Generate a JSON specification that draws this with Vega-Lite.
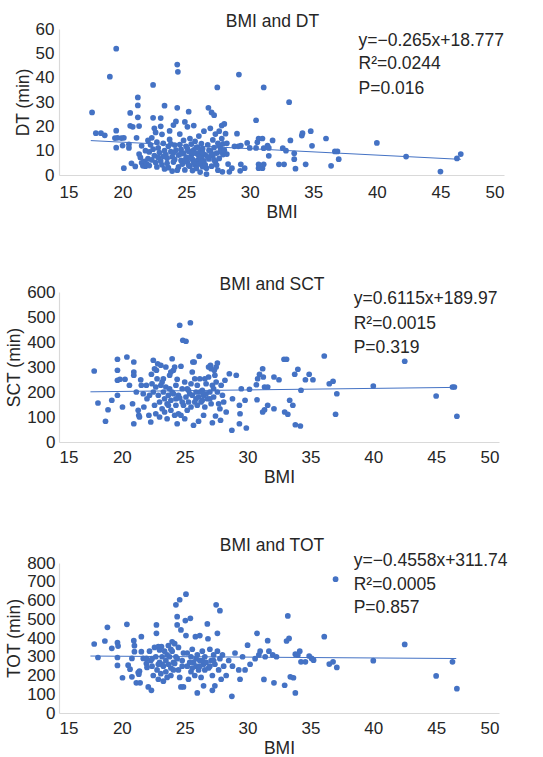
{
  "$schema": "https://vega.github.io/schema/vega-lite/v6.json",
  "padding": {"left": 5, "top": 12, "right": 0, "bottom": 0},
  "spacing": 54,
  "config": {
    "view": {"stroke": null},
    "font": "Liberation Sans",
    "axis": {"grid": false, "ticks": false, "labelOverlap": false, "labelSeparation": -20, "domainColor": "#d9d9d9", "domainWidth": 1.2, "labelFont": "Liberation Sans", "labelFontSize": 17, "labelColor": "#262626", "titleFont": "Liberation Sans", "titleFontSize": 17.5, "titleFontWeight": "normal", "titleColor": "#262626"},
    "axisY": {"labelOverlap": false},
    "title": {"font": "Liberation Sans", "fontSize": 17.5, "fontWeight": "normal", "color": "#262626"}
  },
  "vconcat": [
    {
      "width": 445, "height": 146,
      "title": {"text": "BMI and DT", "anchor": "middle", "frame": "group", "dx": -9, "offset": -10},
      "encoding": {
        "x": {"field": "bmi", "type": "quantitative", "scale": {"domain": [15, 50]}, "axis": {"values": [15,20,25,30,35,40,45,50], "labelOverlap": false, "title": "BMI", "labelPadding": 9, "titlePadding": 3}},
        "y": {"field": "v", "type": "quantitative", "scale": {"domain": [0, 60]}, "axis": {"values": [0,10,20,30,40,50,60], "labelOverlap": false, "title": "DT (min)", "labelPadding": 5, "titlePadding": 0, "minExtent": 27, "maxExtent": 27}}
      },
      "layer": [
        {
          "data": {"values": [
            {"bmi":17.6,"v":25.7},{"bmi":17.9,"v":17.2},{"bmi":18.3,"v":17.2},{"bmi":18.6,"v":16.3},{"bmi":19.5,"v":51.9},{"bmi":19.0,"v":40.4},{"bmi":19.5,"v":18.2},{"bmi":19.4,"v":15.2},{"bmi":19.6,"v":15.3},{"bmi":19.5,"v":11.2},{"bmi":19.9,"v":15.2},{"bmi":20.1,"v":15.3},{"bmi":20.0,"v":12.1},{"bmi":20.1,"v":2.8},{"bmi":20.6,"v":25.5},{"bmi":20.6,"v":20.2},{"bmi":20.8,"v":19.8},{"bmi":20.5,"v":11.1},{"bmi":20.5,"v":12.6},{"bmi":21.2,"v":31.9},{"bmi":21.2,"v":28.6},{"bmi":21.2,"v":23.7},{"bmi":21.3,"v":20.1},{"bmi":21.1,"v":15.3},{"bmi":20.7,"v":4.8},{"bmi":21.0,"v":3.5},{"bmi":21.3,"v":8.6},{"bmi":21.4,"v":7.2},{"bmi":21.5,"v":5.0},{"bmi":21.6,"v":3.8},{"bmi":21.7,"v":5.6},{"bmi":21.8,"v":3.6},{"bmi":21.9,"v":4.6},{"bmi":22.0,"v":6.7},{"bmi":22.1,"v":3.9},{"bmi":22.2,"v":12.4},{"bmi":22.3,"v":15.3},{"bmi":22.4,"v":37},{"bmi":22.4,"v":23.5},{"bmi":22.5,"v":19.2},{"bmi":22.6,"v":17.5},{"bmi":22.7,"v":13.5},{"bmi":22.8,"v":11.1},{"bmi":22.9,"v":9.2},{"bmi":22.5,"v":8.0},{"bmi":22.3,"v":6.2},{"bmi":22.6,"v":5.1},{"bmi":22.7,"v":3.3},{"bmi":23.0,"v":23.4},{"bmi":23.0,"v":20.0},{"bmi":23.1,"v":16.7},{"bmi":23.2,"v":13.0},{"bmi":23.3,"v":28.5},{"bmi":23.3,"v":10.0},{"bmi":23.4,"v":8.4},{"bmi":23.5,"v":6.9},{"bmi":23.1,"v":4.2},{"bmi":23.3,"v":2.5},{"bmi":23.6,"v":11.8},{"bmi":23.7,"v":14.6},{"bmi":23.7,"v":18.1},{"bmi":23.8,"v":9.6},{"bmi":23.9,"v":7.5},{"bmi":23.9,"v":1.6},{"bmi":24.0,"v":20.5},{"bmi":24.0,"v":5.3},{"bmi":24.1,"v":12.3},{"bmi":24.2,"v":22},{"bmi":24.2,"v":10.2},{"bmi":24.3,"v":45.4},{"bmi":24.35,"v":42.4},{"bmi":24.3,"v":27.6},{"bmi":24.4,"v":8.2},{"bmi":24.4,"v":3.3},{"bmi":24.5,"v":16.8},{"bmi":24.5,"v":12.5},{"bmi":24.6,"v":6.0},{"bmi":24.6,"v":10.5},{"bmi":24.7,"v":4.5},{"bmi":24.8,"v":14.2},{"bmi":24.8,"v":9.0},{"bmi":24.9,"v":21.8},{"bmi":24.9,"v":2.1},{"bmi":25.0,"v":7.3},{"bmi":25.0,"v":11.8},{"bmi":25.1,"v":19.8},{"bmi":25.1,"v":5.2},{"bmi":25.2,"v":26.0},{"bmi":25.2,"v":9.8},{"bmi":25.3,"v":15.0},{"bmi":25.3,"v":3.6},{"bmi":25.4,"v":8.1},{"bmi":25.4,"v":12.7},{"bmi":25.5,"v":1.8},{"bmi":25.5,"v":6.4},{"bmi":25.6,"v":10.3},{"bmi":25.6,"v":20.3},{"bmi":25.7,"v":4.2},{"bmi":25.7,"v":13.8},{"bmi":25.8,"v":8.8},{"bmi":25.8,"v":2.7},{"bmi":25.9,"v":11.5},{"bmi":25.9,"v":6.0},{"bmi":26.0,"v":16.0},{"bmi":26.0,"v":4.5},{"bmi":26.1,"v":9.6},{"bmi":26.1,"v":1.2},{"bmi":26.2,"v":12.9},{"bmi":26.2,"v":7.1},{"bmi":26.3,"v":3.4},{"bmi":26.3,"v":10.8},{"bmi":26.4,"v":5.8},{"bmi":26.4,"v":18.0},{"bmi":26.5,"v":8.3},{"bmi":26.6,"v":0.4},{"bmi":26.6,"v":2.8},{"bmi":26.7,"v":12.4},{"bmi":26.75,"v":27.6},{"bmi":26.8,"v":6.6},{"bmi":26.9,"v":9.9},{"bmi":26.9,"v":19.2},{"bmi":27.0,"v":25.7},{"bmi":27.0,"v":3.6},{"bmi":27.1,"v":14.4},{"bmi":27.1,"v":7.9},{"bmi":27.2,"v":24.6},{"bmi":27.2,"v":11.3},{"bmi":27.3,"v":5.4},{"bmi":27.3,"v":16.8},{"bmi":27.4,"v":9.0},{"bmi":27.45,"v":36.0},{"bmi":27.5,"v":13.0},{"bmi":27.5,"v":2.0},{"bmi":27.6,"v":18.0},{"bmi":27.6,"v":6.8},{"bmi":27.7,"v":11.0},{"bmi":27.8,"v":20.3},{"bmi":27.8,"v":15.0},{"bmi":27.85,"v":1.3},{"bmi":27.9,"v":8.4},{"bmi":27.9,"v":12.8},{"bmi":28.0,"v":21.0},{"bmi":28.1,"v":17.0},{"bmi":28.2,"v":8.6},{"bmi":28.3,"v":4.5},{"bmi":28.4,"v":1.3},{"bmi":28.6,"v":2.8},{"bmi":28.8,"v":11.8},{"bmi":29.0,"v":17.0},{"bmi":29.1,"v":11.8},{"bmi":29.15,"v":41.3},{"bmi":29.3,"v":4.4},{"bmi":29.25,"v":1.7},{"bmi":29.3,"v":12.1},{"bmi":29.6,"v":2.8},{"bmi":29.8,"v":13.2},{"bmi":30.0,"v":11.1},{"bmi":30.5,"v":11.1},{"bmi":30.6,"v":13.5},{"bmi":30.5,"v":22.5},{"bmi":30.7,"v":15.0},{"bmi":30.7,"v":4.4},{"bmi":30.7,"v":2.8},{"bmi":31.0,"v":15.0},{"bmi":31.0,"v":2.8},{"bmi":31.1,"v":11.0},{"bmi":31.1,"v":4.4},{"bmi":31.1,"v":36.0},{"bmi":31.4,"v":12.1},{"bmi":31.5,"v":11.1},{"bmi":31.5,"v":7.9},{"bmi":31.8,"v":14.2},{"bmi":32.3,"v":4.4},{"bmi":32.6,"v":11.0},{"bmi":32.7,"v":4.4},{"bmi":32.85,"v":10.0},{"bmi":33.1,"v":29.9},{"bmi":33.2,"v":14.2},{"bmi":33.5,"v":8.9},{"bmi":33.5,"v":6.5},{"bmi":33.6,"v":2.6},{"bmi":34.1,"v":16.2},{"bmi":34.15,"v":17.2},{"bmi":34.4,"v":4.4},{"bmi":34.8,"v":18.0},{"bmi":34.9,"v":12.0},{"bmi":36.0,"v":15.0},{"bmi":36.4,"v":3.8},{"bmi":36.7,"v":9.7},{"bmi":36.9,"v":9.7},{"bmi":37.0,"v":6.5},{"bmi":40.0,"v":13.2},{"bmi":42.3,"v":7.6},{"bmi":45.0,"v":1.4},{"bmi":46.3,"v":6.8},{"bmi":46.6,"v":8.6},
            {"bmi":22.1,"v":9.5},{"bmi":22.4,"v":10.6},{"bmi":22.8,"v":7.2},{"bmi":23.0,"v":5.8},{"bmi":23.2,"v":7.7},{"bmi":23.5,"v":4.8},{"bmi":23.6,"v":3.0},{"bmi":23.8,"v":12.8},{"bmi":24.0,"v":9.1},{"bmi":24.1,"v":6.4},{"bmi":24.3,"v":2.0},{"bmi":24.6,"v":8.7},{"bmi":24.9,"v":5.9},{"bmi":25.1,"v":10.8},{"bmi":25.2,"v":4.0},{"bmi":25.3,"v":7.0},{"bmi":25.5,"v":9.2},{"bmi":25.6,"v":5.1},{"bmi":25.8,"v":11.2},{"bmi":26.0,"v":7.8},{"bmi":26.2,"v":5.2},{"bmi":26.3,"v":9.0},{"bmi":26.5,"v":4.2},{"bmi":26.7,"v":7.4},{"bmi":26.8,"v":10.2},{"bmi":27.0,"v":8.8},{"bmi":27.2,"v":6.2},{"bmi":27.4,"v":4.1},{"bmi":27.6,"v":12.1},{"bmi":27.7,"v":9.6},{"bmi":28.0,"v":10.2},{"bmi":28.2,"v":13.0},{"bmi":21.8,"v":10.0},{"bmi":21.5,"v":12.0},{"bmi":22.0,"v":14.2}
          ]},
          "mark": {"type": "circle", "size": 33, "color": "#4472C4", "opacity": 1}
        },
        {
          "data": {"values": [{"bmi": 17.5, "v": 14.14}, {"bmi": 46.6, "v": 6.43}]},
          "mark": {"type": "line", "color": "#4472C4", "strokeWidth": 1}
        },
        {
          "data": {"values": [{"bmi": 38.56, "v": 55.2, "t": "y=−0.265x+18.777"}, {"bmi": 38.56, "v": 45.6, "t": "R²=0.0244"}, {"bmi": 38.56, "v": 35.3, "t": "P=0.016"}]},
          "mark": {"type": "text", "align": "left", "baseline": "middle", "fontSize": 17.5, "color": "#262626"},
          "encoding": {"text": {"field": "t"}}
        }
      ]
    },
    {
      "spacing": 50,
      "vconcat": [
        {
          "width": 440, "height": 150,
          "title": {"text": "BMI and SCT", "anchor": "middle", "frame": "group", "dx": -7, "offset": -10},
          "encoding": {
            "x": {"field": "bmi", "type": "quantitative", "scale": {"domain": [15, 50]}, "axis": {"values": [15,20,25,30,35,40,45,50], "labelOverlap": false, "title": "BMI", "labelPadding": 7, "titlePadding": 3}},
            "y": {"field": "v", "type": "quantitative", "scale": {"domain": [0, 600]}, "axis": {"values": [0,100,200,300,400,500,600], "labelOverlap": false, "title": "SCT (min)", "labelPadding": 4, "titlePadding": 3, "minExtent": 33, "maxExtent": 33}}
          },
          "layer": [
            {
              "data": {"values": [
                {"bmi":17.8,"v":284},{"bmi":18.1,"v":156},{"bmi":18.7,"v":83},{"bmi":18.9,"v":129},{"bmi":19.2,"v":167},{"bmi":19.65,"v":331},{"bmi":19.65,"v":287},{"bmi":19.65,"v":247},{"bmi":19.65,"v":187},{"bmi":19.85,"v":251},{"bmi":20.05,"v":140},{"bmi":20.25,"v":251},{"bmi":20.4,"v":340},{"bmi":20.6,"v":227},{"bmi":20.85,"v":153},{"bmi":20.95,"v":73},{"bmi":20.95,"v":320},{"bmi":20.95,"v":280},{"bmi":20.95,"v":267},{"bmi":21.15,"v":200},{"bmi":21.3,"v":127},{"bmi":21.35,"v":107},{"bmi":21.4,"v":100},{"bmi":21.5,"v":249},{"bmi":21.55,"v":227},{"bmi":21.7,"v":193},{"bmi":21.75,"v":140},{"bmi":21.95,"v":227},{"bmi":22.0,"v":173},{"bmi":22.15,"v":107},{"bmi":22.3,"v":80},{"bmi":22.35,"v":271},{"bmi":22.5,"v":327},{"bmi":22.6,"v":293},{"bmi":22.75,"v":287},{"bmi":22.85,"v":313},
                {"bmi":22.4,"v":233},{"bmi":22.5,"v":200},{"bmi":22.6,"v":147},{"bmi":22.7,"v":113},{"bmi":22.8,"v":253},{"bmi":22.9,"v":187},{"bmi":23.0,"v":160},{"bmi":23.0,"v":100},{"bmi":23.1,"v":227},{"bmi":23.1,"v":307},{"bmi":23.2,"v":133},{"bmi":23.3,"v":200},{"bmi":23.3,"v":253},{"bmi":23.4,"v":173},{"bmi":23.4,"v":120},{"bmi":23.5,"v":300},{"bmi":23.5,"v":220},{"bmi":23.6,"v":153},{"bmi":23.6,"v":93},{"bmi":23.7,"v":187},{"bmi":23.8,"v":267},{"bmi":23.8,"v":213},{"bmi":23.9,"v":127},{"bmi":23.9,"v":167},{"bmi":24.0,"v":333},{"bmi":24.0,"v":200},{"bmi":24.1,"v":287},{"bmi":24.2,"v":300},{"bmi":24.2,"v":107},{"bmi":24.3,"v":147},{"bmi":24.3,"v":227},{"bmi":24.4,"v":251},{"bmi":24.4,"v":73},{"bmi":24.5,"v":187},{"bmi":24.5,"v":113},{"bmi":24.6,"v":176},{"bmi":24.6,"v":467},{"bmi":24.7,"v":107},{"bmi":24.7,"v":303},{"bmi":24.8,"v":213},{"bmi":24.85,"v":407},{"bmi":24.9,"v":147},{"bmi":25.0,"v":240},{"bmi":25.0,"v":93},{"bmi":25.1,"v":403},{"bmi":25.1,"v":180},{"bmi":25.2,"v":127},{"bmi":25.3,"v":207},{"bmi":25.3,"v":160},{"bmi":25.45,"v":477},{"bmi":25.5,"v":233},{"bmi":25.5,"v":140},{"bmi":25.6,"v":187},{"bmi":25.65,"v":320},{"bmi":25.7,"v":67},{"bmi":25.75,"v":320},{"bmi":25.8,"v":160},{"bmi":25.8,"v":253},{"bmi":25.9,"v":200},{"bmi":26.0,"v":147},{"bmi":26.0,"v":227},{"bmi":26.1,"v":83},{"bmi":26.1,"v":180},{"bmi":26.15,"v":343},{"bmi":26.2,"v":253},{"bmi":26.3,"v":160},{"bmi":26.4,"v":207},{"bmi":26.5,"v":107},{"bmi":26.5,"v":187},{"bmi":26.6,"v":140},{"bmi":26.7,"v":233},{"bmi":26.8,"v":173},{"bmi":26.9,"v":260},{"bmi":26.9,"v":300},{"bmi":27.0,"v":200},{"bmi":27.05,"v":307},{"bmi":27.1,"v":153},{"bmi":27.1,"v":293},{"bmi":27.2,"v":77},{"bmi":27.2,"v":227},{"bmi":27.3,"v":180},{"bmi":27.35,"v":287},{"bmi":27.4,"v":267},{"bmi":27.45,"v":104},{"bmi":27.5,"v":240},{"bmi":27.5,"v":300},{"bmi":27.6,"v":316},{"bmi":27.6,"v":200},{"bmi":27.7,"v":153},{"bmi":27.8,"v":133},{"bmi":27.85,"v":87},{"bmi":27.9,"v":227},{"bmi":28.0,"v":187},{"bmi":28.1,"v":160},{"bmi":28.2,"v":247},{"bmi":28.3,"v":120},{"bmi":28.55,"v":273},{"bmi":28.75,"v":47},{"bmi":28.8,"v":173},{"bmi":29.1,"v":267},{"bmi":29.35,"v":147},{"bmi":29.4,"v":113},{"bmi":29.35,"v":73},{"bmi":29.5,"v":213},{"bmi":29.9,"v":56},{"bmi":29.8,"v":167},{"bmi":30.15,"v":211},{"bmi":30.7,"v":229},{"bmi":30.8,"v":253},{"bmi":30.95,"v":271},{"bmi":31.2,"v":293},{"bmi":31.25,"v":260},{"bmi":30.75,"v":169},{"bmi":31.2,"v":120},{"bmi":31.35,"v":129},{"bmi":31.6,"v":147},{"bmi":31.35,"v":220},{"bmi":31.6,"v":220},{"bmi":32.1,"v":260},{"bmi":32.5,"v":249},{"bmi":32.1,"v":133},{"bmi":32.9,"v":331},{"bmi":33.1,"v":331},{"bmi":32.95,"v":120},{"bmi":33.2,"v":111},{"bmi":33.35,"v":167},{"bmi":33.6,"v":147},{"bmi":33.75,"v":271},{"bmi":34.0,"v":291},{"bmi":34.25,"v":207},{"bmi":33.8,"v":69},{"bmi":34.2,"v":64},{"bmi":34.6,"v":249},{"bmi":34.9,"v":271},{"bmi":35.2,"v":249},{"bmi":36.1,"v":344},{"bmi":36.5,"v":233},{"bmi":36.8,"v":243},{"bmi":37.1,"v":193},{"bmi":37.0,"v":111},{"bmi":40.0,"v":224},{"bmi":42.5,"v":323},{"bmi":45.0,"v":184},{"bmi":46.3,"v":220},{"bmi":46.45,"v":220},{"bmi":46.65,"v":103},
                {"bmi":23.2,"v":240},{"bmi":23.7,"v":147},{"bmi":24.1,"v":193},{"bmi":24.3,"v":173},{"bmi":24.8,"v":160},{"bmi":25.2,"v":213},{"bmi":25.4,"v":193},{"bmi":25.9,"v":173},{"bmi":26.2,"v":200},{"bmi":26.4,"v":167},{"bmi":26.7,"v":193},{"bmi":27.0,"v":173},{"bmi":27.3,"v":213},{"bmi":22.2,"v":187},{"bmi":22.7,"v":220},{"bmi":23.9,"v":280},{"bmi":25.6,"v":280},{"bmi":26.6,"v":253}
              ]},
              "mark": {"type": "circle", "size": 33, "color": "#4472C4", "opacity": 1}
            },
            {
              "data": {"values": [{"bmi": 17.5, "v": 200.7}, {"bmi": 46.6, "v": 218.5}]},
              "mark": {"type": "line", "color": "#4472C4", "strokeWidth": 1}
            },
            {
              "data": {"values": [{"bmi": 38.44, "v": 573.6, "t": "y=0.6115x+189.97"}, {"bmi": 38.44, "v": 473.6, "t": "R²=0.0015"}, {"bmi": 38.44, "v": 377.6, "t": "P=0.319"}]},
              "mark": {"type": "text", "align": "left", "baseline": "middle", "fontSize": 17.5, "color": "#262626"},
              "encoding": {"text": {"field": "t"}}
            }
          ]
        },
        {
          "width": 440, "height": 150,
          "title": {"text": "BMI and TOT", "anchor": "middle", "frame": "group", "dx": -7, "offset": -2},
          "encoding": {
            "x": {"field": "bmi", "type": "quantitative", "scale": {"domain": [15, 50]}, "axis": {"values": [15,20,25,30,35,40,45,50], "labelOverlap": false, "title": "BMI", "labelPadding": 7, "titlePadding": 3}},
            "y": {"field": "v", "type": "quantitative", "scale": {"domain": [0, 800]}, "axis": {"values": [0,100,200,300,400,500,600,700,800], "labelOverlap": false, "title": "TOT (min)", "labelPadding": 4, "titlePadding": 3, "minExtent": 33, "maxExtent": 33}}
          },
          "layer": [
            {
              "data": {"values": [
                {"bmi":17.8,"v":368},{"bmi":18.1,"v":296},{"bmi":18.85,"v":457},{"bmi":18.65,"v":384},{"bmi":19.2,"v":345},{"bmi":19.65,"v":375},{"bmi":19.7,"v":357},{"bmi":19.65,"v":254},{"bmi":19.65,"v":296},{"bmi":20.05,"v":188},{"bmi":20.4,"v":473},{"bmi":20.5,"v":255},{"bmi":20.65,"v":234},{"bmi":20.8,"v":291},{"bmi":20.8,"v":193},{"bmi":20.95,"v":386},{"bmi":21.0,"v":359},{"bmi":21.0,"v":327},{"bmi":21.15,"v":161},{"bmi":21.45,"v":161},{"bmi":21.3,"v":216},{"bmi":21.35,"v":207},{"bmi":21.4,"v":223},{"bmi":21.55,"v":407},{"bmi":21.55,"v":327},{"bmi":21.7,"v":291},{"bmi":21.95,"v":291},{"bmi":21.95,"v":264},{"bmi":22.0,"v":243},{"bmi":22.1,"v":139},{"bmi":22.35,"v":121},{"bmi":22.75,"v":470},{"bmi":22.75,"v":425},
                {"bmi":22.2,"v":330},{"bmi":22.3,"v":280},{"bmi":22.4,"v":250},{"bmi":22.5,"v":200},{"bmi":22.6,"v":350},{"bmi":22.7,"v":300},{"bmi":22.8,"v":230},{"bmi":22.9,"v":354},{"bmi":22.9,"v":180},{"bmi":23.0,"v":336},{"bmi":23.0,"v":270},{"bmi":23.1,"v":210},{"bmi":23.15,"v":354},{"bmi":23.2,"v":300},{"bmi":23.3,"v":250},{"bmi":23.3,"v":170},{"bmi":23.4,"v":330},{"bmi":23.5,"v":280},{"bmi":23.5,"v":220},{"bmi":23.6,"v":190},{"bmi":23.7,"v":360},{"bmi":23.7,"v":260},{"bmi":23.8,"v":300},{"bmi":23.9,"v":240},{"bmi":23.9,"v":200},{"bmi":24.0,"v":380},{"bmi":24.0,"v":330},{"bmi":24.1,"v":270},{"bmi":24.2,"v":264},{"bmi":24.2,"v":370},{"bmi":24.3,"v":577},{"bmi":24.3,"v":300},{"bmi":24.4,"v":514},{"bmi":24.4,"v":470},{"bmi":24.5,"v":230},{"bmi":24.5,"v":350},{"bmi":24.6,"v":604},{"bmi":24.6,"v":190},{"bmi":24.7,"v":443},{"bmi":24.7,"v":139},{"bmi":24.8,"v":280},{"bmi":24.9,"v":139},{"bmi":24.9,"v":320},{"bmi":25.05,"v":493},{"bmi":25.1,"v":634},{"bmi":25.1,"v":413},{"bmi":25.2,"v":250},{"bmi":25.3,"v":180},{"bmi":25.45,"v":505},{"bmi":25.5,"v":300},{"bmi":25.5,"v":220},{"bmi":25.6,"v":340},{"bmi":25.7,"v":270},{"bmi":25.8,"v":200},{"bmi":25.85,"v":407},{"bmi":25.9,"v":250},{"bmi":26.0,"v":107},{"bmi":26.0,"v":310},{"bmi":26.1,"v":230},{"bmi":26.2,"v":413},{"bmi":26.2,"v":280},{"bmi":26.3,"v":190},{"bmi":26.4,"v":330},{"bmi":26.5,"v":145},{"bmi":26.5,"v":260},{"bmi":26.6,"v":300},{"bmi":26.8,"v":475},{"bmi":26.85,"v":396},{"bmi":26.9,"v":240},{"bmi":27.0,"v":340},{"bmi":27.1,"v":280},{"bmi":27.2,"v":121},{"bmi":27.2,"v":200},{"bmi":27.3,"v":310},{"bmi":27.4,"v":145},{"bmi":27.4,"v":260},{"bmi":27.5,"v":577},{"bmi":27.6,"v":425},{"bmi":27.6,"v":330},{"bmi":27.7,"v":230},{"bmi":27.8,"v":546},{"bmi":27.8,"v":290},{"bmi":27.9,"v":180},{"bmi":28.0,"v":310},{"bmi":28.1,"v":250},{"bmi":28.3,"v":200},{"bmi":28.5,"v":280},{"bmi":28.75,"v":89},{"bmi":28.8,"v":250},{"bmi":29.0,"v":320},{"bmi":29.3,"v":230},{"bmi":29.4,"v":180},{"bmi":29.6,"v":300},{"bmi":29.8,"v":230},{"bmi":30.0,"v":362},{"bmi":30.2,"v":260},{"bmi":30.6,"v":290},{"bmi":30.75,"v":425},{"bmi":30.9,"v":310},{"bmi":31.0,"v":330},{"bmi":31.3,"v":179},{"bmi":31.4,"v":300},{"bmi":31.6,"v":386},{"bmi":31.7,"v":330},{"bmi":32.1,"v":161},{"bmi":32.0,"v":310},{"bmi":32.3,"v":300},{"bmi":32.95,"v":148},{"bmi":33.1,"v":384},{"bmi":33.3,"v":398},{"bmi":33.2,"v":518},{"bmi":33.4,"v":193},{"bmi":33.65,"v":188},{"bmi":33.8,"v":107},{"bmi":34.0,"v":309},{"bmi":34.15,"v":330},{"bmi":33.8,"v":314},{"bmi":34.25,"v":273},{"bmi":34.6,"v":273},{"bmi":34.9,"v":304},{"bmi":35.1,"v":291},{"bmi":35.25,"v":282},{"bmi":36.1,"v":407},{"bmi":36.5,"v":261},{"bmi":36.8,"v":273},{"bmi":37.1,"v":243},{"bmi":37.0,"v":714},{"bmi":40.0,"v":279},{"bmi":42.5,"v":366},{"bmi":45.0,"v":198},{"bmi":46.3,"v":273},{"bmi":46.65,"v":130},
                {"bmi":23.2,"v":260},{"bmi":23.6,"v":310},{"bmi":24.1,"v":230},{"bmi":24.4,"v":290},{"bmi":24.8,"v":250},{"bmi":25.2,"v":320},{"bmi":25.4,"v":270},{"bmi":25.9,"v":290},{"bmi":26.2,"v":250},{"bmi":26.4,"v":280},{"bmi":26.7,"v":270},{"bmi":27.0,"v":250},{"bmi":27.3,"v":280},{"bmi":22.4,"v":290},{"bmi":22.9,"v":260},{"bmi":23.9,"v":340},{"bmi":25.6,"v":240},{"bmi":26.6,"v":230}
              ]},
              "mark": {"type": "circle", "size": 33, "color": "#4472C4", "opacity": 1}
            },
            {
              "data": {"values": [{"bmi": 17.5, "v": 303.8}, {"bmi": 46.6, "v": 290.5}]},
              "mark": {"type": "line", "color": "#4472C4", "strokeWidth": 1}
            },
            {
              "data": {"values": [{"bmi": 38.44, "v": 808.6, "t": "y=−0.4558x+311.74"}, {"bmi": 38.44, "v": 683.8, "t": "R²=0.0005"}, {"bmi": 38.44, "v": 559, "t": "P=0.857"}]},
              "mark": {"type": "text", "align": "left", "baseline": "middle", "fontSize": 17.5, "color": "#262626"},
              "encoding": {"text": {"field": "t"}}
            }
          ]
        }
      ]
    }
  ]
}
